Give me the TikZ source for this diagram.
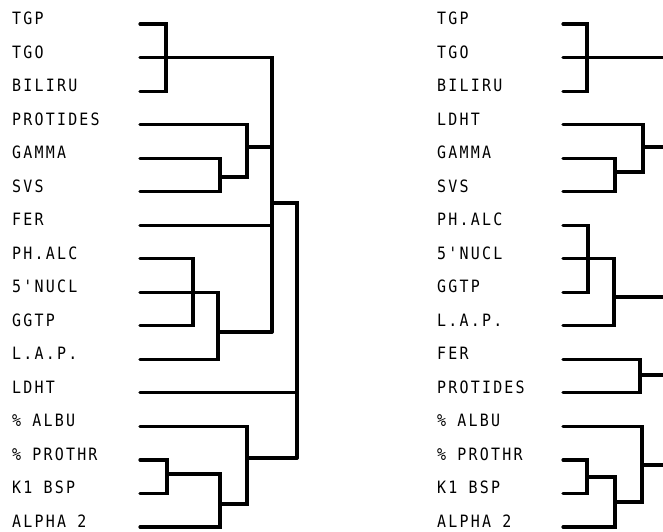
\documentclass[tikz,border=0pt]{standalone}
\usepackage{fontspec}
\newfontfamily\plt[LetterSpace=13,FakeStretch=0.88]{DejaVu Sans Mono}
\begin{document}
\begin{tikzpicture}[x=1pt,y=-1pt,
  lbl/.style={anchor=base west,inner sep=0pt,font=\plt\fontsize{17}{17}\selectfont},
  br/.style={line width=3.2pt,line cap=round,line join=miter}]
\useasboundingbox (0,0) rectangle (663,531);
% row positions
\foreach \i/\yy in {0/24,1/57.5,2/91.1,3/124.6,4/158.1,5/191.7,6/225.2,7/258.7,8/292.2,9/325.8,10/359.3,11/392.8,12/426.4,13/459.9,14/493.4,15/527}{
  \coordinate (La\i) at (140,\yy);
  \coordinate (Ra\i) at (563,\yy);
}
% left labels
\node[lbl] (lt0) at (12,24.5) {TGP};
\node[lbl] (lt1) at (12,58) {TGO};
\node[lbl] (lt2) at (12,91.6) {BILIRU};
\node[lbl] (lt3) at (12,125.1) {PROTIDES};
\node[lbl] (lt4) at (12,158.6) {GAMMA};
\node[lbl] (lt5) at (12,192.2) {SVS};
\node[lbl] (lt6) at (12,225.7) {FER};
\node[lbl] (lt7) at (12,259.2) {PH.ALC};
\node[lbl] (lt8) at (12,292.7) {5'NUCL};
\node[lbl] (lt9) at (12,326.3) {GGTP};
\node[lbl] (lt10) at (12,359.8) {L.A.P.};
\node[lbl] (lt11) at (12,393.3) {LDHT};
\node[lbl] (lt12) at (12,426.9) {\% ALBU};
\node[lbl] (lt13) at (12,460.4) {\% PROTHR};
\node[lbl] (lt14) at (12,493.9) {K1 BSP};
\node[lbl] (lt15) at (12,527.5) {ALPHA 2};
% right labels
\node[lbl] (rt0) at (437,24.5) {TGP};
\node[lbl] (rt1) at (437,58) {TGO};
\node[lbl] (rt2) at (437,91.6) {BILIRU};
\node[lbl] (rt3) at (437,125.1) {LDHT};
\node[lbl] (rt4) at (437,158.6) {GAMMA};
\node[lbl] (rt5) at (437,192.2) {SVS};
\node[lbl] (rt6) at (437,225.7) {PH.ALC};
\node[lbl] (rt7) at (437,259.2) {5'NUCL};
\node[lbl] (rt8) at (437,292.7) {GGTP};
\node[lbl] (rt9) at (437,326.3) {L.A.P.};
\node[lbl] (rt10) at (437,359.8) {FER};
\node[lbl] (rt11) at (437,393.3) {PROTIDES};
\node[lbl] (rt12) at (437,426.9) {\% ALBU};
\node[lbl] (rt13) at (437,460.4) {\% PROTHR};
\node[lbl] (rt14) at (437,493.9) {K1 BSP};
\node[lbl] (rt15) at (437,527.5) {ALPHA 2};
% ---------- left dendrogram ----------
\draw[br] (La0) -- ++(26,0) |- (La2);
\draw[br] (La1) -- (272,57.5) -- (272,332);
\draw[br] (La3) -- (247,124.6) -- (247,177) -- (220,177);
\draw[br] (La4) -- ++(80,0) |- (La5);
\draw[br] (247,147) -- (272,147);
\draw[br] (La6) -- (272,225.2);
\draw[br] (La7) -- ++(53,0) |- (La9);
\draw[br] (La8) -- (218,292.2) |- (La10);
\draw[br] (218,332) -- (272,332);
\draw[br] (272,203) -- (297,203) -- (297,458);
\draw[br] (La11) -- (297,392.8);
\draw[br] (La12) -- (247,426.4) -- (247,504) -- (220,504);
\draw[br] (La13) -- ++(27,0) |- (La14);
\draw[br] (167,474) -- (220,474) |- (La15);
\draw[br] (247,458) -- (297,458);
% ---------- right dendrogram ----------
\draw[br] (Ra0) -- ++(24,0) |- (Ra2);
\draw[br] (Ra1) -- (666,57.5);
\draw[br] (Ra3) -- (643,124.6) -- (643,172) -- (615,172);
\draw[br] (Ra4) -- ++(52,0) |- (Ra5);
\draw[br] (643,147) -- (666,147);
\draw[br] (Ra6) -- ++(25,0) |- (Ra8);
\draw[br] (Ra7) -- (614,258.7) |- (Ra9);
\draw[br] (614,297) -- (666,297);
\draw[br] (Ra10) -- ++(77,0) |- (Ra11);
\draw[br] (640,375) -- (666,375);
\draw[br] (Ra12) -- (642,426.4) -- (642,502) -- (615,502);
\draw[br] (Ra13) -- ++(24,0) |- (Ra14);
\draw[br] (587,477) -- (615,477) |- (Ra15);
\draw[br] (642,465) -- (666,465);
\end{tikzpicture}
\end{document}
